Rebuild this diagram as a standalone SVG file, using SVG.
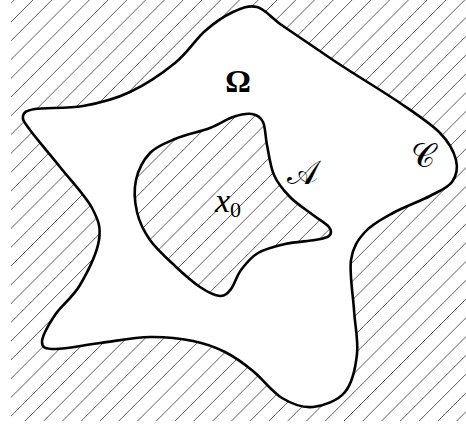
<svg xmlns="http://www.w3.org/2000/svg" width="466" height="428" viewBox="0 0 466 428">
<style>
.hatch{stroke:#333;stroke-width:0.8;fill:none}
.curve{stroke:#000;stroke-width:2.6;fill:none;stroke-linejoin:round}
.lbl{font-family:"Liberation Serif","DejaVu Serif",serif;fill:#000}
.script{font-family:"DejaVu Serif","DejaVu Sans","Noto Sans",serif;fill:#000}
</style>
<defs>
<clipPath id="hclip"><rect x="11" y="0" width="455" height="421"/></clipPath>
<path id="outer" d="M233 12 C241.7 8 248.7 5 257 7 C265.3 9 270.3 17.2 283 26 C295.7 34.8 313.5 46.8 333 60 C352.5 73.2 382.2 90.8 400 103 C417.8 115.2 430.7 123.5 440 133 C449.3 142.5 454 151.8 456 160 C458 168.2 456.3 176 452 182 C447.7 188 439.8 190.8 430 196 C420.2 201.2 403.8 207 393 213 C382.2 219 372 224.2 365 232 C358 239.8 352.8 247 351 260 C349.2 273 353 294.3 354 310 C355 325.7 358.5 340.3 357 354 C355.5 367.7 352.3 383.2 345 392 C337.7 400.8 323.5 406 313 407 C302.5 408 292 404 282 398 C272 392 262.5 378.7 253 371 C243.5 363.3 235 357 225 352 C215 347 205.5 343.5 193 341 C180.5 338.5 165.5 336.7 150 337 C134.5 337.3 115.8 341 100 343 C84.2 345 64.7 349.2 55 349 C45.3 348.8 42 347.7 42 342 C42 336.3 48.7 324.5 55 315 C61.3 305.5 72.7 297.5 80 285 C87.3 272.5 97 252.8 99 240 C101 227.2 98.5 220.2 92 208 C85.5 195.8 70.3 180 60 167 C49.7 154 36.2 138.5 30 130 C23.8 121.5 22.2 119.5 23 116 C23.8 112.5 25 110.7 35 109 C45 107.3 67.2 108.8 83 106 C98.8 103.2 114.7 99.2 130 92 C145.3 84.8 162.5 73.2 175 63 C187.5 52.8 195.3 39.5 205 31 C214.7 22.5 224.3 16 233 12 Z"/>
<path id="inner" d="M233 117 C240 114.7 247 113.2 252 114 C257 114.8 260.5 116.8 263 122 C265.5 127.2 265.2 136.2 267 145 C268.8 153.8 270.2 166.3 274 175 C277.8 183.7 283.5 190.3 290 197 C296.5 203.7 306.5 210 313 215 C319.5 220 326.3 223.5 329 227 C331.7 230.5 331.3 233.8 329 236 C326.7 238.2 322.3 238.7 315 240 C307.7 241.3 294.5 241.8 285 244 C275.5 246.2 265.3 248.7 258 253 C250.7 257.3 245.5 264 241 270 C236.5 276 234.5 284.7 231 289 C227.5 293.3 225.2 296.3 220 296 C214.8 295.7 207.5 292 200 287 C192.5 282 183.3 273.8 175 266 C166.7 258.2 156.3 249 150 240 C143.7 231 139.3 222 137 212 C134.7 202 133.8 189.8 136 180 C138.2 170.2 143.5 159.8 150 153 C156.5 146.2 165 143.2 175 139 C185 134.8 200.3 131.7 210 128 C219.7 124.3 226 119.3 233 117 Z"/>
</defs>
<g id="hatching" clip-path="url(#hclip)">
<path class="hatch" d="M19.23 -5 L-415.77 430 M38 -5 L-397 430 M56.77 -5 L-378.23 430 M75.54 -5 L-359.46 430 M94.31 -5 L-340.69 430 M113.08 -5 L-321.92 430 M131.85 -5 L-303.15 430 M150.62 -5 L-284.38 430 M169.39 -5 L-265.61 430 M188.16 -5 L-246.84 430 M206.93 -5 L-228.07 430 M225.7 -5 L-209.3 430 M244.47 -5 L-190.53 430 M263.24 -5 L-171.76 430 M282.01 -5 L-152.99 430 M300.78 -5 L-134.22 430 M319.55 -5 L-115.45 430 M338.32 -5 L-96.68 430 M357.09 -5 L-77.91 430 M375.86 -5 L-59.14 430 M394.63 -5 L-40.37 430 M413.4 -5 L-21.6 430 M432.17 -5 L-2.83 430 M450.94 -5 L15.94 430 M469.71 -5 L34.71 430 M488.48 -5 L53.48 430 M507.25 -5 L72.25 430 M526.02 -5 L91.02 430 M544.79 -5 L109.79 430 M563.56 -5 L128.56 430 M582.33 -5 L147.33 430 M601.1 -5 L166.1 430 M619.87 -5 L184.87 430 M638.64 -5 L203.64 430 M657.41 -5 L222.41 430 M676.18 -5 L241.18 430 M694.95 -5 L259.95 430 M713.72 -5 L278.72 430 M732.49 -5 L297.49 430 M751.26 -5 L316.26 430 M770.03 -5 L335.03 430 M788.8 -5 L353.8 430 M807.57 -5 L372.57 430 M826.34 -5 L391.34 430 M845.11 -5 L410.11 430 M863.88 -5 L428.88 430 M882.65 -5 L447.65 430"/>
</g>
<g id="omega-region">
<path fill="#fff" fill-rule="evenodd" stroke="none" d="M233 12 C241.7 8 248.7 5 257 7 C265.3 9 270.3 17.2 283 26 C295.7 34.8 313.5 46.8 333 60 C352.5 73.2 382.2 90.8 400 103 C417.8 115.2 430.7 123.5 440 133 C449.3 142.5 454 151.8 456 160 C458 168.2 456.3 176 452 182 C447.7 188 439.8 190.8 430 196 C420.2 201.2 403.8 207 393 213 C382.2 219 372 224.2 365 232 C358 239.8 352.8 247 351 260 C349.2 273 353 294.3 354 310 C355 325.7 358.5 340.3 357 354 C355.5 367.7 352.3 383.2 345 392 C337.7 400.8 323.5 406 313 407 C302.5 408 292 404 282 398 C272 392 262.5 378.7 253 371 C243.5 363.3 235 357 225 352 C215 347 205.5 343.5 193 341 C180.5 338.5 165.5 336.7 150 337 C134.5 337.3 115.8 341 100 343 C84.2 345 64.7 349.2 55 349 C45.3 348.8 42 347.7 42 342 C42 336.3 48.7 324.5 55 315 C61.3 305.5 72.7 297.5 80 285 C87.3 272.5 97 252.8 99 240 C101 227.2 98.5 220.2 92 208 C85.5 195.8 70.3 180 60 167 C49.7 154 36.2 138.5 30 130 C23.8 121.5 22.2 119.5 23 116 C23.8 112.5 25 110.7 35 109 C45 107.3 67.2 108.8 83 106 C98.8 103.2 114.7 99.2 130 92 C145.3 84.8 162.5 73.2 175 63 C187.5 52.8 195.3 39.5 205 31 C214.7 22.5 224.3 16 233 12 Z M233 117 C240 114.7 247 113.2 252 114 C257 114.8 260.5 116.8 263 122 C265.5 127.2 265.2 136.2 267 145 C268.8 153.8 270.2 166.3 274 175 C277.8 183.7 283.5 190.3 290 197 C296.5 203.7 306.5 210 313 215 C319.5 220 326.3 223.5 329 227 C331.7 230.5 331.3 233.8 329 236 C326.7 238.2 322.3 238.7 315 240 C307.7 241.3 294.5 241.8 285 244 C275.5 246.2 265.3 248.7 258 253 C250.7 257.3 245.5 264 241 270 C236.5 276 234.5 284.7 231 289 C227.5 293.3 225.2 296.3 220 296 C214.8 295.7 207.5 292 200 287 C192.5 282 183.3 273.8 175 266 C166.7 258.2 156.3 249 150 240 C143.7 231 139.3 222 137 212 C134.7 202 133.8 189.8 136 180 C138.2 170.2 143.5 159.8 150 153 C156.5 146.2 165 143.2 175 139 C185 134.8 200.3 131.7 210 128 C219.7 124.3 226 119.3 233 117 Z"/>
<use href="#outer" class="curve"/>
</g>
<g id="a-region">
<use href="#inner" class="curve"/>
</g>
<g id="labels">
<text class="lbl" x="238" y="92" font-size="32" font-weight="bold" text-anchor="middle">Ω</text>
<text class="lbl" x="215" y="212" font-size="34" font-style="italic">x<tspan font-size="22" font-style="normal" dy="5">0</tspan></text>
<text class="script" x="302" y="184" font-size="33" text-anchor="middle">𝒜</text>
<text class="script" x="423" y="167" font-size="33" text-anchor="middle">𝒞</text>
</g>
</svg>
